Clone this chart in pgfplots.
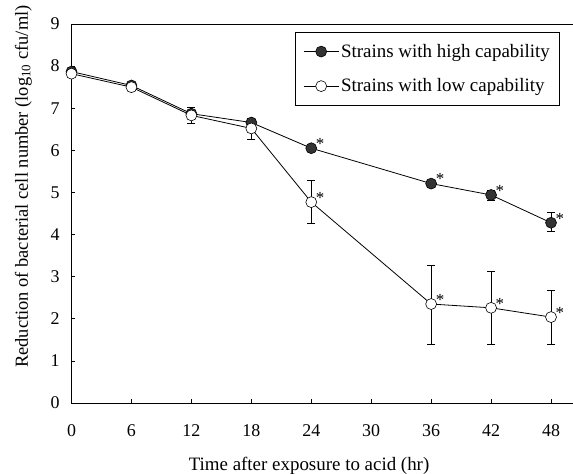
\documentclass[border=0pt]{standalone}
\usepackage{pgfplots}
\pgfplotsset{compat=1.18}
\usepackage{fontspec}
\setmainfont{Liberation Serif}
\begin{document}
\begin{tikzpicture}
\begin{axis}[
  scale only axis,
  width=502bp, height=379bp,
  xmin=-0.05, xmax=50.2, ymin=0, ymax=9,
  axis lines=left,
  axis line style={-, line width=0.9pt},
  xtick={0,6,...,48}, ytick={0,1,...,9},
  tick align=inside,
  major tick length=4pt,
  tick style={line width=0.6pt, black},
  /pgf/number format/assume math mode=true,
  ticklabel style={font=\fontsize{18}{20}\selectfont},
  xticklabel style={yshift=-18pt},
  yticklabel style={xshift=-8pt},
  xlabel={Time after exposure to acid (hr)},
  ylabel={Reduction of bacterial cell number (log\textsubscript{10} cfu/ml)},
  xlabel style={font=\fontsize{19}{21}\selectfont, yshift=-14pt, xshift=-13pt},
  ylabel style={font=\fontsize{18.5}{20}\selectfont, yshift=12pt, xshift=27pt},
  legend style={at={(0.446,0.979)}, anchor=north west, draw=black, line width=0.7pt,
    font=\fontsize{19}{21}\selectfont, inner xsep=8pt, inner ysep=10pt,
    row sep=16pt, legend cell align=left,
    /tikz/every even column/.append style={column sep=0pt}},
  legend image code/.code={%
    \draw[mark repeat=2, mark phase=2, #1] plot coordinates {(0cm,0cm) (0.62cm,0cm) (1.24cm,0cm)};},
  clip=false,
  point meta=explicit symbolic,
  nodes near coords={\pgfplotspointmeta},
  every node near coord/.style={anchor=south west, font=\fontsize{17}{17}\selectfont, xshift=1pt, yshift=-5pt},
]
\addplot[black, line width=0.8pt, mark=*, mark size=5.5pt,
  mark options={fill=black!80, draw=black, line width=0.6pt},
  error bars/.cd, y dir=both, y explicit, error bar style={line width=0.6pt}, error mark options={rotate=90, mark size=4pt, line width=0.6pt}]
coordinates {
(0,7.87) +- (0,0.05) []
(6,7.54) +- (0,0.05) []
(12,6.87) +- (0,0.08) []
(18,6.66) +- (0,0.08) []
(24,6.05) +- (0,0.08) [*]
(36,5.21) +- (0,0.08) [*]
(42,4.94) +- (0,0.12) [*]
(48,4.28) += (0,0.24) -= (0,0.21) [*]
};
\addlegendentry{Strains with high capability}
\addplot[black, line width=0.8pt, mark=*, mark size=5.5pt,
  mark options={fill=white, draw=black, line width=0.6pt},
  error bars/.cd, y dir=both, y explicit, error bar style={line width=0.6pt}, error mark options={rotate=90, mark size=4pt, line width=0.6pt}]
coordinates {
(0,7.82) +- (0,0.05) []
(6,7.50) +- (0,0.05) []
(12,6.83) +- (0,0.19) []
(18,6.52) +- (0,0.25) []
(24,4.77) += (0,0.52) -= (0,0.50) [*]
(36,2.35) += (0,0.93) -= (0,0.95) [*]
(42,2.26) += (0,0.87) -= (0,0.86) [*]
(48,2.04) += (0,0.64) -= (0,0.64) [*]
};
\addlegendentry{Strains with low capability}
\draw[line width=0.9pt] (rel axis cs:0,1) -- (rel axis cs:1,1);
\coordinate (sw) at (rel axis cs:0,0);
\coordinate (ne) at (rel axis cs:1,1);
\end{axis}
\pgfresetboundingbox
\path[use as bounding box] ([xshift=-71bp,yshift=-71bp]sw) rectangle ([yshift=24bp]ne);
\end{tikzpicture}
\end{document}
